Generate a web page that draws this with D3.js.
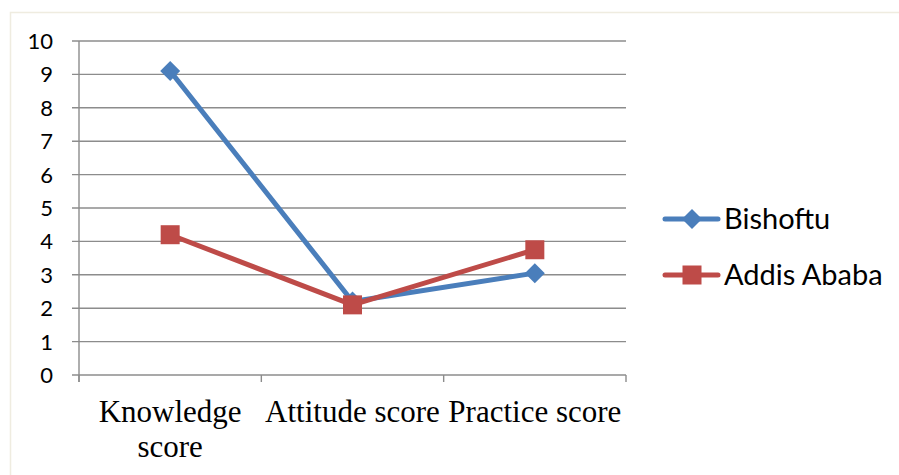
<!DOCTYPE html>
<html>
<head>
<meta charset="utf-8">
<script src="https://cdn.jsdelivr.net/npm/d3@7"></script>
<style>
  html, body { margin: 0; padding: 0; background: #fff; }
  svg { display: block; }
</style>
</head>
<body>
<svg id="chart" width="899" height="475"></svg>
<script>
// Mean scores per category for the two study sites
const categories = ["Knowledge score", "Attitude score", "Practice score"];
const categoryLines = [["Knowledge", "score"], ["Attitude score"], ["Practice score"]];
const bishoftu = [9.1, 2.2, 3.05];
const addisAbaba = [4.2, 2.1, 3.75];
const seriesNames = ["Bishoftu", "Addis Ababa"];
const yTicks = [0, 1, 2, 3, 4, 5, 6, 7, 8, 9, 10];

const colors = { Bishoftu: "#4a7ebb", "Addis Ababa": "#be4b48" };
const series = [
  { name: seriesNames[0], values: bishoftu, shape: "diamond" },
  { name: seriesNames[1], values: addisAbaba, shape: "square" }
];

const svg = d3.select("#chart");

// outer chart frame
svg.append("rect")
  .attr("x", 10.5).attr("y", 12.5)
  .attr("width", 900).attr("height", 480)
  .attr("fill", "none")
  .attr("stroke", "#efece0")
  .attr("stroke-width", 1.5);

const plot = { left: 79, right: 626, top: 41, bottom: 375 };

const x = d3.scaleBand().domain(categories).range([plot.left, plot.right]).padding(0);
const y = d3.scaleLinear().domain([0, 10]).range([plot.bottom, plot.top]);

// horizontal gridlines
svg.append("g")
  .selectAll("line")
  .data(yTicks)
  .join("line")
  .attr("x1", plot.left - 7)
  .attr("x2", plot.right)
  .attr("y1", d => y(d))
  .attr("y2", d => y(d))
  .attr("stroke", "#8c8c8c")
  .attr("stroke-width", 1.4);

// y axis line
svg.append("line")
  .attr("x1", plot.left).attr("x2", plot.left)
  .attr("y1", plot.top).attr("y2", plot.bottom + 7)
  .attr("stroke", "#8c8c8c").attr("stroke-width", 1.4);

// category boundary ticks on x axis
const boundaries = categories.map(c => x(c)).concat([x(categories[categories.length - 1]) + x.bandwidth()]);
svg.append("g")
  .selectAll("line")
  .data(boundaries)
  .join("line")
  .attr("x1", d => d).attr("x2", d => d)
  .attr("y1", plot.bottom).attr("y2", plot.bottom + 7)
  .attr("stroke", "#8c8c8c").attr("stroke-width", 1.4);

// y tick labels
svg.append("g")
  .selectAll("text")
  .data(yTicks)
  .join("text")
  .attr("x", plot.left - 26)
  .attr("y", d => y(d))
  .attr("dy", "0.36em")
  .attr("text-anchor", "end")
  .attr("font-family", "Lato, 'Open Sans', sans-serif")
  .attr("font-size", 22)
  .attr("fill", "#000")
  .text(d => d);

// category labels
const xl = svg.append("g");
categories.forEach((c, i) => {
  const t = xl.append("text")
    .attr("x", x(c) + x.bandwidth() / 2)
    .attr("y", 422)
    .attr("text-anchor", "middle")
    .attr("font-family", "'Liberation Serif', 'Times New Roman', serif")
    .attr("font-size", 31)
    .attr("fill", "#000");
  categoryLines[i].forEach((ln, j) => {
    t.append("tspan")
      .attr("x", x(c) + x.bandwidth() / 2)
      .attr("dy", j === 0 ? 0 : 35)
      .text(ln);
  });
});

const cx = c => x(c) + x.bandwidth() / 2;
const line = d3.line().x((d, i) => cx(categories[i])).y(d => y(d));

function drawMarker(g, shape, px, py, color) {
  if (shape === "diamond") {
    const r = 10;
    g.append("path")
      .attr("d", `M${px},${py - r}L${px + r},${py}L${px},${py + r}L${px - r},${py}Z`)
      .attr("fill", color);
  } else {
    const s = 19;
    g.append("rect")
      .attr("x", px - s / 2).attr("y", py - s / 2)
      .attr("width", s).attr("height", s)
      .attr("fill", color);
  }
}

series.forEach(s => {
  const g = svg.append("g");
  g.append("path")
    .datum(s.values)
    .attr("d", line)
    .attr("fill", "none")
    .attr("stroke", colors[s.name])
    .attr("stroke-width", 5)
    .attr("stroke-linejoin", "round")
    .attr("stroke-linecap", "round");
  s.values.forEach((v, i) => drawMarker(g, s.shape, cx(categories[i]), y(v), colors[s.name]));
});

// legend
const legendY = [219, 275];
series.forEach((s, i) => {
  const g = svg.append("g");
  g.append("line")
    .attr("x1", 665).attr("x2", 718)
    .attr("y1", legendY[i]).attr("y2", legendY[i])
    .attr("stroke", colors[s.name])
    .attr("stroke-width", 5)
    .attr("stroke-linecap", "round");
  drawMarker(g, s.shape, 692, legendY[i], colors[s.name]);
  g.append("text")
    .attr("x", 724)
    .attr("y", legendY[i])
    .attr("dy", "0.36em")
    .attr("font-family", "Lato, 'Open Sans', sans-serif")
    .attr("font-size", 29)
    .attr("fill", "#000")
    .text(s.name);
});
</script>
</body>
</html>
